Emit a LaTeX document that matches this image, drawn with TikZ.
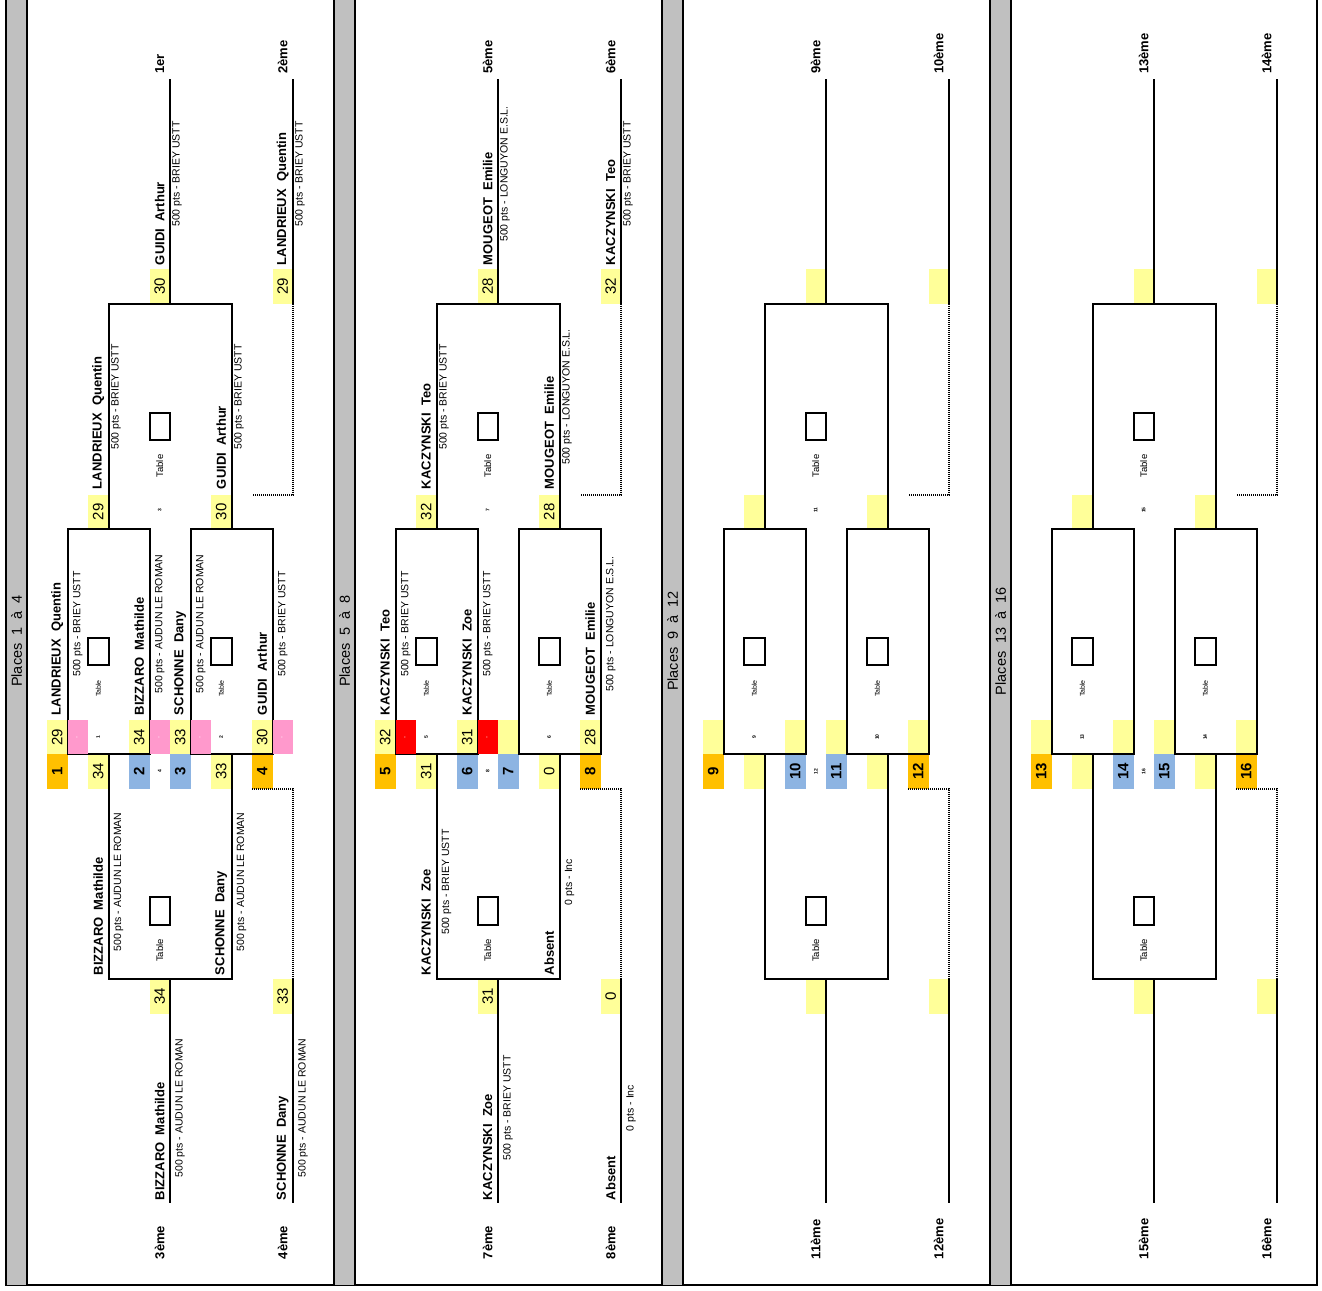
\documentclass[tikz,border=0pt]{standalone}
\usepackage{fontspec}
\setmainfont{Liberation Sans}
\definecolor{grisbar}{RGB}{192,192,192}
\definecolor{jaune}{RGB}{255,255,153}
\definecolor{orseed}{RGB}{255,192,0}
\definecolor{bleuseed}{RGB}{141,180,226}
\definecolor{rose}{RGB}{255,153,204}
\definecolor{rouge}{RGB}{255,0,0}
\tikzset{every picture/.style={line width=2pt},
  nom/.style={rotate=90,anchor=west,inner sep=0pt,font=\bfseries\fontsize{13}{13}\selectfont},
  pts/.style={rotate=90,inner sep=0pt,font=\fontsize{10.5}{10.5}\selectfont},
  score/.style={rotate=90,inner sep=0pt,font=\fontsize{15}{15}\selectfont},
  seed/.style={rotate=90,inner sep=0pt,font=\bfseries\fontsize{15}{15}\selectfont},
  rang/.style={rotate=90,anchor=west,inner sep=0pt,font=\bfseries\fontsize{13}{13}\selectfont},
  tblpetit/.style={rotate=90,inner sep=0pt,font=\fontsize{7}{7}\selectfont},
  tblgrand/.style={rotate=90,inner sep=0pt,font=\fontsize{9.5}{9.5}\selectfont},
  numtiny/.style={rotate=90,inner sep=0pt,font=\bfseries\fontsize{5}{5}\selectfont},
  tiret/.style={rotate=90,inner sep=0pt,text=white,font=\fontsize{6}{6}\selectfont},
  entete/.style={rotate=90,inner sep=0pt,font=\fontsize{14.5}{14.5}\selectfont},
  pointille/.style={dash pattern=on 1pt off 1pt}
}
\begin{document}
\begin{tikzpicture}[x=1pt,y=1pt,yscale=-1,xscale=1]
\useasboundingbox (0,0) rectangle (1322,1290);

%Shape: cadre exterieur
\draw (6,0) -- (6,1285) -- (1317,1285) -- (1317,0);

%Shape: une colonne de places (bande, cases, tableau)
\foreach \o/\ja/\jb/\jc/\jd/\rk in {0/1/2/3/4/1er, 328/5/6/7/8/5ème, 656/9/10/11/12/9ème, 984/13/14/15/16/13ème}{
  \fill[grisbar] ({\o+6},0) rectangle ({\o+27},1285);
  \draw ({\o+6},0) -- ({\o+6},1285) ({\o+27},0) -- ({\o+27},1285);
  \node (ent\ja) [entete] at ({\o+16.5},641) {Places~~\ja~~à~~\jd};
  % cases jaunes
  \foreach \cx/\cy in {0/719.5, 4/719.5, 6/719.5, 10/719.5, 2/494.5, 8/494.5, 5/269, 11/269, 2/754, 8/754, 5/979, 11/979}
    \fill[jaune] ({\o+47+20.5*\cx},\cy) rectangle +(20.5,34.5);
  \fill[orseed] ({\o+47},754) rectangle +(20.5,34.5);
  \fill[orseed] ({\o+252},754) rectangle +(20.5,34.5);
  \fill[bleuseed] ({\o+129},754) rectangle +(20.5,34.5);
  \fill[bleuseed] ({\o+170},754) rectangle +(20.5,34.5);
  % tableau
  \draw ({\o+67.5},529) rectangle ({\o+149.5},754);
  \draw ({\o+190.5},529) rectangle ({\o+272.5},754);
  \draw ({\o+108.5},529) -- ({\o+108.5},303.5) -- ({\o+231.5},303.5) -- ({\o+231.5},529);
  \draw ({\o+108.5},754) -- ({\o+108.5},979) -- ({\o+231.5},979) -- ({\o+231.5},754);
  \draw ({\o+170},303.5) -- ({\o+170},79) ({\o+293},303.5) -- ({\o+293},79);
  \draw ({\o+170},979) -- ({\o+170},1203) ({\o+293},979) -- ({\o+293},1203);
  \draw[pointille] ({\o+293},303.5) -- ({\o+293},494.5) -- ({\o+252},494.5);
  \draw[pointille] ({\o+252},788.5) -- ({\o+293},788.5) -- ({\o+293},979);
  % cases de table
  \draw ({\o+88},638) rectangle ({\o+108.5},665);
  \draw ({\o+211},638) rectangle ({\o+231.5},665);
  \draw ({\o+149.5},413) rectangle ({\o+170},440);
  \draw ({\o+149.5},897) rectangle ({\o+170},925);
  \node (tb\ja) [tblpetit] at ({\o+98.25},688.5) {Table};
  \node (tb\jb) [tblpetit] at ({\o+221.25},688.5) {Table};
  \node (tb\jc) [tblgrand] at ({\o+159.75},466) {Table};
  \node (tb\jd) [tblgrand] at ({\o+159.75},950.5) {Table};
  \node (m\ja) [numtiny] at ({\o+98.25},737) {\ja};
  \node (m\jb) [numtiny] at ({\o+221.25},737) {\jb};
  \node (m\jc) [numtiny] at ({\o+159.75},510) {\jc};
  \node (m\jd) [numtiny] at ({\o+159.75},771.25) {\jd};
  % tetes de serie
  \node (s\ja) [seed] at ({\o+57.25},771.25) {\ja};
  \node (s\jb) [seed] at ({\o+139.25},771.25) {\jb};
  \node (s\jc) [seed] at ({\o+180.25},771.25) {\jc};
  \node (s\jd) [seed] at ({\o+262.25},771.25) {\jd};
  % places
  \node (r\ja) [rang] at ({\o+159.75},75) {\rk};
  \node (r\jb) [rang] at ({\o+282.75},75) {{\jb}ème};
  \node (r\jc) [rang] at ({\o+159.75},1260) {{\jc}ème};
  \node (r\jd) [rang] at ({\o+282.75},1260) {{\jd}ème};
}

%Shape: cases roses et rouges
\foreach \cx in {67.5,149.5,190.5,272.5}{
  \fill[rose] (\cx,719.5) rectangle +(20.5,34.5);
  \node [tiret] at ({\cx+10.25},737) {-};
}
\foreach \cx in {395.5,477.5}{
  \fill[rouge] (\cx,719.5) rectangle +(20.5,34.5);
  \node [tiret] at ({\cx+10.25},737) {-};
}

% Text Node : places 1 a 4, premier tour
\node (sc1a) [score] at (57.25,737) {29};
\node (nm1a) [nom] at (57.25,716) {LANDRIEUX~~Quentin};
\node (pt1a) [pts] at (77.75,624) {500 pts - BRIEY USTT};
\node (sc1b) [score] at (139.25,737) {34};
\node (nm1b) [nom] at (139.25,716) {BIZZARO~~Mathilde};
\node (pt1b) [pts] at (159.75,624) {500 pts - AUDUN LE ROMAN};
\node (sc1c) [score] at (180.25,737) {33};
\node (nm1c) [nom] at (180.25,716) {SCHONNE~~Dany};
\node (pt1c) [pts] at (200.75,624) {500 pts - AUDUN LE ROMAN};
\node (sc1d) [score] at (262.25,737) {30};
\node (nm1d) [nom] at (262.25,716) {GUIDI~~Arthur};
\node (pt1d) [pts] at (282.75,624) {500 pts - BRIEY USTT};
% Text Node : finale
\node (sc1e) [score] at (98.25,511.75) {29};
\node (nm1e) [nom] at (98.25,490) {LANDRIEUX~~Quentin};
\node (pt1e) [pts] at (116,397) {500 pts - BRIEY USTT};
\node (sc1f) [score] at (221.25,511.75) {30};
\node (nm1f) [nom] at (221.25,490) {GUIDI~~Arthur};
\node (pt1f) [pts] at (239,397) {500 pts - BRIEY USTT};
\node (sc1g) [score] at (159.75,286.25) {30};
\node (nm1g) [nom] at (159.75,266) {GUIDI~~Arthur};
\node (pt1g) [pts] at (177,174) {500 pts - BRIEY USTT};
\node (sc1h) [score] at (282.75,286.25) {29};
\node (nm1h) [nom] at (282.75,266) {LANDRIEUX~~Quentin};
\node (pt1h) [pts] at (300,174) {500 pts - BRIEY USTT};
% Text Node : petite finale
\node (sc1i) [score] at (98.25,771.25) {34};
\node (sc1j) [score] at (221.25,771.25) {33};
\node (nm1i) [nom] at (98.25,976) {BIZZARO~~Mathilde};
\node (pt1i) [pts] at (118.5,882) {500 pts - AUDUN LE ROMAN};
\node (nm1j) [nom] at (221.25,976) {SCHONNE~~Dany};
\node (pt1j) [pts] at (241.5,882) {500 pts - AUDUN LE ROMAN};
\node (sc1k) [score] at (159.75,996.25) {34};
\node (nm1k) [nom] at (159.75,1201) {BIZZARO~~Mathilde};
\node (pt1k) [pts] at (180,1108) {500 pts - AUDUN LE ROMAN};
\node (sc1l) [score] at (282.75,996.25) {33};
\node (nm1l) [nom] at (282.75,1201) {SCHONNE~~Dany};
\node (pt1l) [pts] at (303,1108) {500 pts - AUDUN LE ROMAN};

% Text Node : places 5 a 8, premier tour
\node (sc2a) [score] at (385.25,737) {32};
\node (nm2a) [nom] at (385.25,716) {KACZYNSKI~~Teo};
\node (pt2a) [pts] at (405.75,624) {500 pts - BRIEY USTT};
\node (sc2b) [score] at (467.25,737) {31};
\node (nm2b) [nom] at (467.25,716) {KACZYNSKI~~Zoe};
\node (pt2b) [pts] at (487.75,624) {500 pts - BRIEY USTT};
\node (sc2d) [score] at (590.25,737) {28};
\node (nm2d) [nom] at (590.25,716) {MOUGEOT~~Emilie};
\node (pt2d) [pts] at (610.75,624) {500 pts - LONGUYON E.S.L.};
% Text Node : finale
\node (sc2e) [score] at (426.25,511.75) {32};
\node (nm2e) [nom] at (426.25,490) {KACZYNSKI~~Teo};
\node (pt2e) [pts] at (444,397) {500 pts - BRIEY USTT};
\node (sc2f) [score] at (549.25,511.75) {28};
\node (nm2f) [nom] at (549.25,490) {MOUGEOT~~Emilie};
\node (pt2f) [pts] at (567,397) {500 pts - LONGUYON E.S.L.};
\node (sc2g) [score] at (487.75,286.25) {28};
\node (nm2g) [nom] at (487.75,266) {MOUGEOT~~Emilie};
\node (pt2g) [pts] at (505,174) {500 pts - LONGUYON E.S.L.};
\node (sc2h) [score] at (610.75,286.25) {32};
\node (nm2h) [nom] at (610.75,266) {KACZYNSKI~~Teo};
\node (pt2h) [pts] at (628,174) {500 pts - BRIEY USTT};
% Text Node : petite finale
\node (sc2i) [score] at (426.25,771.25) {31};
\node (sc2j) [score] at (549.25,771.25) {0};
\node (nm2i) [nom] at (426.25,976) {KACZYNSKI~~Zoe};
\node (pt2i) [pts] at (446.5,882) {500 pts - BRIEY USTT};
\node (nm2j) [nom] at (549.25,976) {Absent};
\node (pt2j) [pts] at (569.5,882) {0 pts - Inc};
\node (sc2k) [score] at (487.75,996.25) {31};
\node (nm2k) [nom] at (487.75,1201) {KACZYNSKI~~Zoe};
\node (pt2k) [pts] at (508,1108) {500 pts - BRIEY USTT};
\node (sc2l) [score] at (610.75,996.25) {0};
\node (nm2l) [nom] at (610.75,1201) {Absent};
\node (pt2l) [pts] at (631,1108) {0 pts - Inc};

\end{tikzpicture}
\end{document}
